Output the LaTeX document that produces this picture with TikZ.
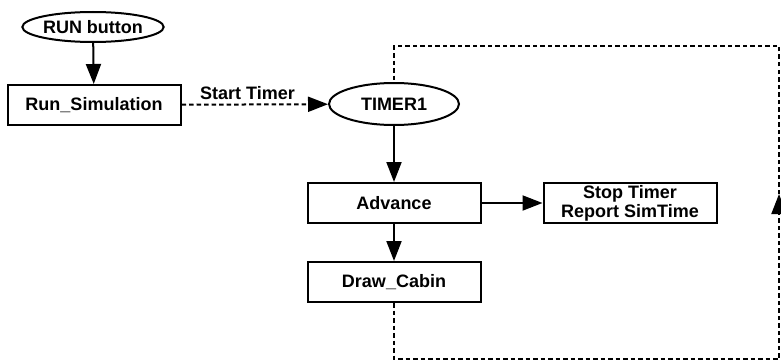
\documentclass[tikz,border=0pt]{standalone}
\usepackage{fontspec}
\setmainfont{Liberation Sans}
\usetikzlibrary{shapes.geometric,arrows.meta}

\begin{document}
\begin{tikzpicture}[x=1pt,y=1pt,
    font=\fontsize{18}{19}\selectfont\bfseries,
    line width=2pt,
    oval/.style={draw,ellipse,minimum width=130pt,minimum height=30pt,inner sep=0pt},
    box/.style={draw,rectangle,minimum width=173pt,minimum height=40pt,inner sep=0pt,align=center},
    flow/.style={-{Triangle[length=20pt,width=15pt]}},
    loopline/.style={dash pattern=on 4.5pt off 3pt}]
    \useasboundingbox (0,0) rectangle (781,-361);
    % nodes of the flow
    \node[oval] (run) at (93,-27) {RUN button};
    \node[box] (sim) at (94,-105) {Run\_Simulation};
    \node[oval,minimum height=42pt] (timer) at (394,-104) {TIMER1};
    \node[box] (adv) at (394,-203) {Advance};
    \node[box] (stop) at (630,-203) {Stop Timer\\Report SimTime};
    \node[box] (cabin) at (394,-282) {Draw\_Cabin};
    % corners of the timer loop
    \coordinate (loopbot) at (779,-359);
    \coordinate (loopup) at (779,-194);
    \coordinate (looptop) at (779,-46);
    % connectors
    \draw[flow] (run) -- (sim);
    \draw[flow,loopline] (sim) -- node[above,pos=0.45] {Start Timer} (timer);
    \draw[flow] (timer) -- (adv);
    \draw[flow] (adv) -- (stop);
    \draw[flow] (adv) -- (cabin);
    \draw[flow,loopline] (cabin.south) |- (loopbot) -- (loopup);
    \draw[loopline] (loopup) -- (looptop) -| (timer.north);
\end{tikzpicture}
\end{document}
